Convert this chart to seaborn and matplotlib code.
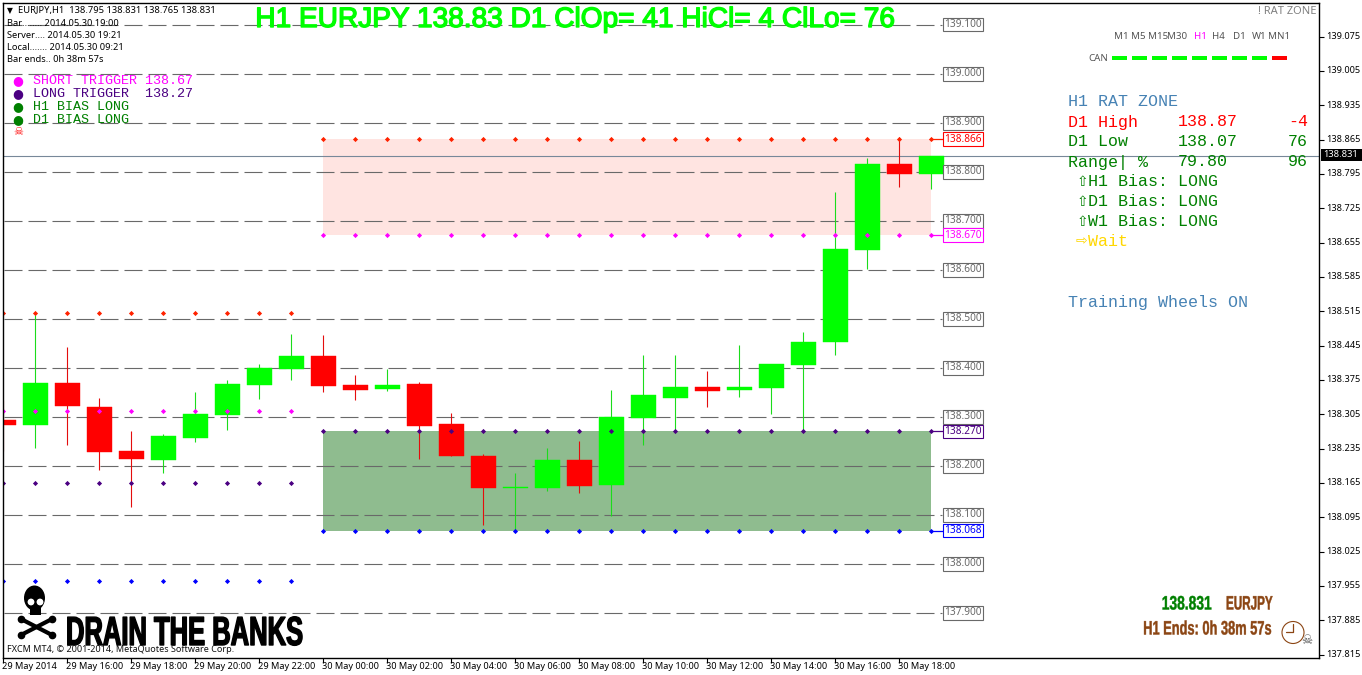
import matplotlib
matplotlib.use('Agg')
import matplotlib.pyplot as plt
import matplotlib.patheffects as pe
from matplotlib.transforms import Affine2D, ScaledTranslation
from matplotlib.patches import Circle, Ellipse, Rectangle
import numpy as np
import pandas as pd
import seaborn as sns

# candles, one per hour
opens = [138.294, 138.284, 138.368, 138.319, 138.231, 138.211, 138.256, 138.303, 138.364, 138.397,
         138.423, 138.364, 138.356, 138.366, 138.286, 138.221, 138.155, 138.154, 138.211, 138.160,
         138.297, 138.339, 138.360, 138.354, 138.358, 138.405, 138.452, 138.641, 138.815, 138.795]
highs = [138.335, 138.507, 138.443, 138.339, 138.272, 138.264, 138.350, 138.374, 138.407, 138.468,
         138.466, 138.386, 138.397, 138.370, 138.307, 138.225, 138.186, 138.237, 138.250, 138.354,
         138.427, 138.427, 138.394, 138.446, 138.407, 138.472, 138.758, 138.827, 138.870, 138.831]
lows = [138.230, 138.237, 138.243, 138.192, 138.115, 138.186, 138.248, 138.274, 138.337, 138.374,
        138.350, 138.335, 138.352, 138.213, 138.219, 138.080, 138.070, 138.148, 138.144, 138.097,
        138.243, 138.268, 138.319, 138.341, 138.305, 138.268, 138.425, 138.601, 138.768, 138.765]
closes = [138.284, 138.368, 138.321, 138.229, 138.213, 138.260, 138.305, 138.366, 138.399, 138.423,
          138.362, 138.354, 138.364, 138.282, 138.219, 138.154, 138.156, 138.211, 138.158, 138.299,
          138.344, 138.360, 138.352, 138.360, 138.407, 138.452, 138.643, 138.815, 138.795, 138.831]

time_labels = ['29 May 2014', '29 May 16:00', '29 May 18:00', '29 May 20:00', '29 May 22:00',
               '30 May 00:00', '30 May 02:00', '30 May 04:00', '30 May 06:00', '30 May 08:00',
               '30 May 10:00', '30 May 12:00', '30 May 14:00', '30 May 16:00', '30 May 18:00']
round_levels = [139.1, 139.0, 138.9, 138.8, 138.7, 138.6, 138.5, 138.4, 138.3, 138.2, 138.1, 138.0, 137.9]
axis_prices = [139.075, 139.005, 138.935, 138.865, 138.795, 138.725, 138.655, 138.585, 138.515, 138.445,
               138.375, 138.305, 138.235, 138.165, 138.095, 138.025, 137.955, 137.885, 137.815]

# yesterday and today trigger levels
level_colors = ['#ff2200', 'magenta', 'indigo', 'blue']
prev_levels = [138.512, 138.311, 138.165, 137.965]
today_levels = [138.866, 138.670, 138.270, 138.068]
today_labels = ['138.866', '138.670', '138.270', '138.068']
bid = 138.831

timeframes = ['M1', 'M5', 'M15', 'M30', 'H1', 'H4', 'D1', 'W1', 'MN1']
tf_x = [1121, 1138, 1158, 1177, 1200, 1218, 1239, 1259, 1279]
can_colors = ['lime'] * 8 + ['red']

df = pd.DataFrame({'hour': np.arange(len(opens)), 'open': opens, 'high': highs, 'low': lows, 'close': closes})
df['body'] = (df['close'] - df['open']).abs()
df['base'] = df[['open', 'close']].min(axis=1)
up = df[df['close'] >= df['open']]
down = df[df['close'] < df['open']]

sns.set_theme(style='white')
plt.rcParams['font.family'] = ['Noto Sans', 'DejaVu Sans']
plt.rcParams['lines.scale_dashes'] = False

W, H = 1362, 675
fig = plt.figure(figsize=(W / 100, H / 100), dpi=100, facecolor='white')
ax = fig.add_axes([2.5 / W, 1 - 657.5 / H, (1319 - 2.5) / W, (657.5 - 2.5) / H])
# pixels of the picture, origin top left, for the overlay texts
px = Affine2D().scale(1 / W, -1 / H).translate(0, 1) + fig.transFigure


class Squeeze(pe.AbstractPathEffect):
    # no condensed heavy font here, so reshape the glyphs around an anchor pixel
    def __init__(self, x0, y0, sx, sy=1, dy=0, stroke=0.8):
        super().__init__()
        self.x0, self.y0, self.sx, self.sy, self.dy, self.stroke = x0, H - y0, sx, sy, dy, stroke

    def draw_path(self, renderer, gc, tpath, affine, rgbFace=None):
        a = affine + Affine2D().translate(-self.x0, -self.y0).scale(self.sx, self.sy).translate(self.x0, self.y0 - self.dy)
        gc0 = renderer.new_gc()
        gc0.copy_properties(gc)
        gc0.set_linewidth(self.stroke)
        gc0.set_foreground(rgbFace)
        renderer.draw_path(gc0, tpath, a, rgbFace)
        gc0.restore()


# zones
ax.fill_between([10, 29], today_levels[1], today_levels[0], color='mistyrose', lw=0, zorder=1)
ax.fill_between([10, 29], today_levels[3], today_levels[2], color='darkseagreen', lw=0, zorder=1)

# round number lines
ax.hlines(round_levels, 0.02, 29.34, colors='dimgray', lw=0.8, linestyles=[(0, (12.96, 4.32))], zorder=2)
ax.axhline(bid, color='#778899', lw=0.8, zorder=2)

# candles
ax.vlines(up['hour'], up['low'], up['high'], colors='#1bdc1b', lw=0.8, zorder=3)
ax.vlines(down['hour'], down['low'], down['high'], colors='#e40d0d', lw=0.8, zorder=3)
sns.barplot(data=up, x='hour', y='body', bottom=up['base'].values, native_scale=True, errorbar=None, width=0.78,
            color='lime', saturation=1, edgecolor='lime', linewidth=0.3, ax=ax, zorder=4)
sns.barplot(data=down, x='hour', y='body', bottom=down['base'].values, native_scale=True, errorbar=None, width=0.78,
            color='red', saturation=1, edgecolor='red', linewidth=0.3, ax=ax, zorder=4)

# trigger dots
for lev, lev2, c in zip(prev_levels, today_levels, level_colors):
    sns.scatterplot(x=np.arange(0, 10), y=[lev] * 10, color=c, marker='D', s=7, linewidth=0, ax=ax, zorder=5)
    sns.scatterplot(x=np.arange(10, 30), y=[lev2] * 20, color=c, marker='D', s=7, linewidth=0, ax=ax, zorder=5)
    ax.hlines(lev2, 29, 29.36, colors=c, lw=0.9, zorder=5)

ax.set_xlim(-0.03, -0.03 + 1316.5 / 32)
ax.set_ylim(137.809, 139.145)
ax.set_xlabel('')
ax.set_ylabel('')

ax.yaxis.tick_right()
ax.set_yticks(axis_prices)
ax.set_yticklabels(['%.3f' % p for p in axis_prices])
ax.set_xticks(np.arange(0, 30, 2))
ax.set_xticklabels(time_labels, ha='left')
ax.tick_params(axis='both', which='major', length=3.5, width=0.8, color='black', labelsize=6.6,
               labelcolor='black', bottom=True, right=True, left=False)
ax.tick_params(axis='x', pad=0)
ax.tick_params(axis='y', pad=2)
for lab in ax.get_xticklabels():
    lab.set_transform(lab.get_transform() + ScaledTranslation(-1.5 / 100, 0, fig.dpi_scale_trans))
for lab in ax.get_yticklabels(which='major'):
    lab.set_transform(lab.get_transform() + ScaledTranslation(0, 1.2 / 100, fig.dpi_scale_trans))
for s in ax.spines.values():
    s.set_color('black')
    s.set_linewidth(1.0)
    s.set_zorder(10)

# boxes on the round levels and the trigger levels
for lev in round_levels:
    ax.text(29.98, lev, '%.3f' % lev, ha='center', va='center', fontsize=7.3, color='dimgray', zorder=7,
            bbox=dict(boxstyle='square,pad=0.14', fc='white', ec='dimgray', lw=0.8))
for lev, lab, c in zip(today_levels, today_labels, ['red', 'magenta', 'indigo', 'blue']):
    ax.text(29.98, lev, lab, ha='center', va='center', fontsize=7.3, color=c, zorder=8,
            bbox=dict(boxstyle='square,pad=0.14', fc='white', ec=c, lw=0.8))


def put(x, y, s, **kw):
    kw.setdefault('va', 'center')
    kw.setdefault('clip_on', False)
    kw.setdefault('zorder', 9)
    return ax.text(x, y, s, transform=px, **kw)


mono = ['Liberation Mono', 'DejaVu Sans']
arrows = ['DejaVu Sans']

# bid box
ax.add_patch(Rectangle((1320.5, 149), 41, 12, transform=px, fc='black', ec='none', clip_on=False, zorder=9))
put(1341, 154.8, '138.831', ha='center', color='white', fontsize=6.8, fontweight='bold', zorder=10)

# title
put(574, 20, 'H1 EURJPY 138.83 D1 ClOp= 41 HiCl= 4 ClLo= 76', ha='center', color='lime', fontsize=20.2,
    family=['Liberation Sans', 'DejaVu Sans'],
    path_effects=[pe.withStroke(linewidth=1.0, foreground='lime')])

# top left info
put(10, 10.5, '\u25bc', ha='center', fontsize=5.5, color='black', family=['DejaVu Sans'])
put(18, 10.5, 'EURJPY,H1  138.795 138.831 138.765 138.831', fontsize=6.75, color='black')
for yy, s in zip([23, 35, 47, 59], ['Bar........ 2014.05.30 19:00', 'Server.... 2014.05.30 19:21',
                                    'Local....... 2014.05.30 09:21', 'Bar ends.. 0h 38m 57s']):
    put(7, yy, s, fontsize=6.7, color='black')

for yy, s, c in zip([81, 94, 107, 120], ['SHORT TRIGGER 138.67', 'LONG TRIGGER  138.27', 'H1 BIAS LONG', 'D1 BIAS LONG'],
                    ['magenta', 'indigo', 'green', 'green']):
    put(18, yy, '\u25cf', ha='center', color=c, fontsize=9, family=['DejaVu Sans'])
    put(33, yy, s, color=c, fontsize=9.6, family=mono)
put(18, 132, '\u2620', ha='center', color='red', fontsize=8, family=['DejaVu Sans'])

# right panel
put(1317, 11, '! RAT ZONE', ha='right', color='gray', fontsize=8, fontweight='bold')
for x, s in zip(tf_x, timeframes):
    put(x, 36.5, s, ha='center', color='magenta' if s == 'H1' else '#555555', fontsize=7)
put(1108, 58.5, 'CAN', ha='right', color='#555555', fontsize=7)
for i, c in enumerate(can_colors):
    ax.add_patch(Rectangle((1112 + i * 20, 56), 15, 4, transform=px, fc=c, ec='none', clip_on=False, zorder=9))

panel = [(102, 1068, 'H1 RAT ZONE', 'steelblue'),
         (122, 1068, 'D1 High', 'red'), (122, 1178, '138.87', 'red'), (122, 1288, '-4', 'red'),
         (142, 1068, 'D1 Low', 'green'), (142, 1178, '138.07', 'green'), (142, 1288, '76', 'green'),
         (162, 1068, 'Range| %', 'green'), (162, 1178, '79.80', 'green'), (162, 1288, '96', 'green'),
         (182, 1088, 'H1 Bias: LONG', 'green'), (202, 1088, 'D1 Bias: LONG', 'green'),
         (222, 1088, 'W1 Bias: LONG', 'green'), (242, 1088, 'Wait', 'gold'),
         (302, 1068, 'Training Wheels ON', 'steelblue')]
for yy, xx, s, c in panel:
    put(xx, yy, s, color=c, fontsize=12, family=mono)
for yy in [182, 202, 222]:
    put(1082, yy, '\u21e7', ha='center', color='green', fontsize=10, family=arrows)
put(1081, 241, '\u21e8', ha='center', color='gold', fontsize=10, family=arrows)

# skull and bones of the logo
ax.add_patch(Ellipse((34.5, 598), 21, 25, transform=px, fc='black', ec='none', clip_on=False, zorder=9))
ax.add_patch(Rectangle((30, 606), 11, 9, transform=px, fc='black', ec='none', clip_on=False, zorder=9))
for ex in [31, 40]:
    ax.add_patch(Circle((ex, 602), 3.4, transform=px, fc='white', ec='none', clip_on=False, zorder=10))
for y0, y1 in [(619, 635), (635, 619)]:
    ax.plot([21, 52], [y0, y1], transform=px, color='black', lw=3, marker='o', ms=4.5, solid_capstyle='round',
            clip_on=False, zorder=9)

put(66, 638, 'DRAIN THE BANKS', color='black', va='baseline', fontsize=20, fontweight='bold', family=['Liberation Sans'],
    path_effects=[Squeeze(66, 638, 0.92, sy=1.46, dy=7, stroke=1.0)])
put(7, 650, 'FXCM MT4, \u00a9 2001-2014, MetaQuotes Software Corp.', color='#111111', fontsize=6.5)

# bottom right
heavy = ['Liberation Sans']
put(1212, 605, '138.831', ha='right', color='green', fontsize=14, fontweight='bold', family=heavy,
    path_effects=[Squeeze(1212, 605, 0.71, stroke=0.3)])
put(1226, 605, 'EURJPY', ha='left', color='saddlebrown', fontsize=14, fontweight='bold', family=heavy,
    path_effects=[Squeeze(1226, 605, 0.6, stroke=0.3)])
put(1272, 630, 'H1 Ends: 0h 38m 57s', ha='right', color='saddlebrown', fontsize=14, fontweight='bold', family=heavy,
    path_effects=[Squeeze(1272, 630, 0.66, stroke=0.3)])
ax.add_patch(Circle((1293, 632.5), 11, transform=px, fc='white', ec='saddlebrown', lw=0.8, clip_on=False, zorder=9))
ax.plot([1293, 1293, 1286], [624, 632, 632], transform=px, color='saddlebrown', lw=0.9, clip_on=False, zorder=10)
put(1307, 641, '\u2620', ha='center', color='#555555', fontsize=9, family=['DejaVu Sans'])

fig.savefig('out.png', dpi=100)
